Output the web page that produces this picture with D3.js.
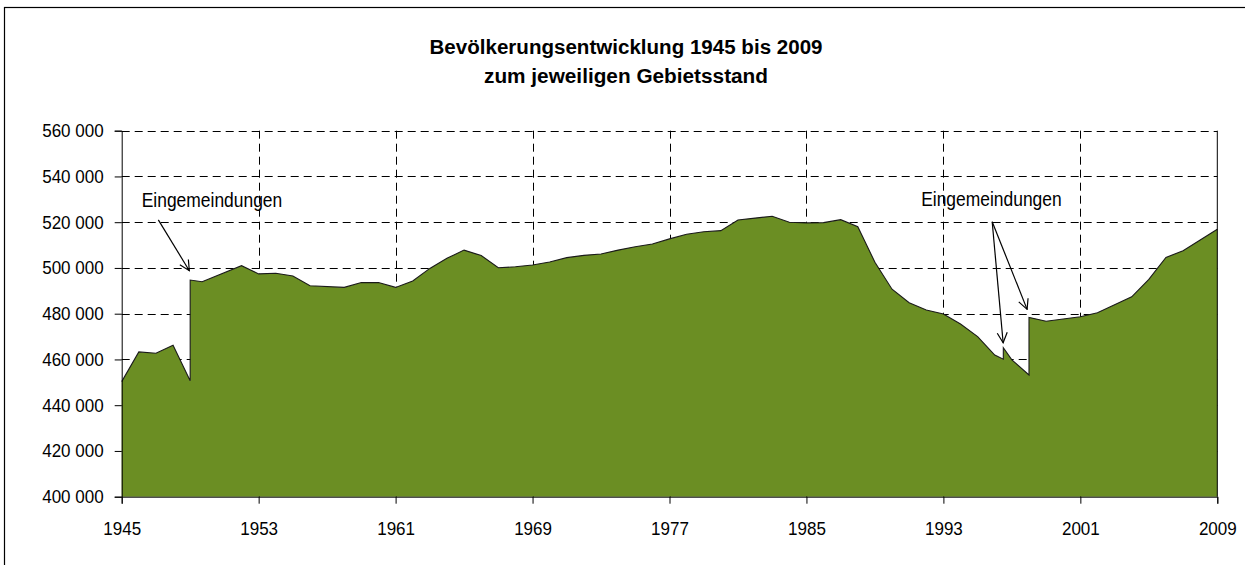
<!DOCTYPE html>
<html>
<head>
<meta charset="utf-8">
<script src="https://cdn.jsdelivr.net/npm/d3@7"></script>
<style>
  body { margin: 0; background: #fff; }
  svg text { font-family: "Liberation Sans", Arial, sans-serif; fill: #000; }
  .title { font-weight: bold; font-size: 19.5px; }
  .tick text { font-size: 18.5px; }
  .note { font-size: 21px; }
</style>
</head>
<body>
<div id="chart"></div>
<script>
// population per year (years with two entries = before/after incorporation)
const years = [1945, 1946, 1947, 1948, 1949, 1949, 1949.7, 1952, 1953, 1954, 1955, 1956, 1958, 1959, 1960,
  1961, 1962, 1963, 1964, 1965, 1966, 1967, 1968, 1969, 1970, 1971, 1972, 1973, 1974, 1975, 1976,
  1977, 1978, 1979, 1980, 1981, 1982, 1983, 1984, 1985, 1986, 1987, 1988, 1989, 1990, 1991, 1992,
  1993, 1994, 1995, 1996, 1996.5, 1996.5, 1997, 1998, 1998, 1999, 2001, 2002, 2004, 2005, 2006,
  2007, 2008, 2009];
const population = [450300, 463300, 462700, 466200, 450700, 494700, 494000, 501000, 497400, 497700, 496500, 492200, 491500, 493600, 493600,
  491500, 494300, 499800, 504200, 507800, 505400, 500100, 500500, 501300, 502600, 504500, 505500, 506100, 507800, 509300, 510500,
  512700, 514700, 515800, 516300, 521000, 521800, 522600, 520000, 519700, 519800, 521100, 518000, 502500, 490700, 484800, 481600,
  479900, 475500, 470000, 461900, 460100, 465100, 459800, 453200, 478400, 476700, 478700, 480400, 487400, 495000, 504600,
  507500, 512200, 516900];

const xTicks = [1945, 1953, 1961, 1969, 1977, 1985, 1993, 2001, 2009];
const yTicks = [400000, 420000, 440000, 460000, 480000, 500000, 520000, 540000, 560000];

const titleLines = ["Bevölkerungsentwicklung 1945 bis 2009", "zum jeweiligen Gebietsstand"];

// notes: label anchor + arrows, in data units
const noteLabels = [
  {text: "Eingemeindungen", year: 1946.17, value: 526800},
  {text: "Eingemeindungen", year: 1991.7, value: 527100}
];
const noteArrows = [
  {from: [1947.14, 521000], to: [1948.95, 498800]},
  {from: [1995.85, 520200], to: [1996.49, 467300]},
  {from: [1995.85, 520200], to: [1997.89, 481900]}
];

const width = 1245,
  height = 565,
  margin = {top: 130.7, bottom: 68.3, right: 27.7, left: 121.7};

const data = years.map((y, i) => ({year: y, value: population[i]}));

// narrow look: squeeze text horizontally
function squeeze(sel, k) {
  sel.each(function () {
    const w = this.getComputedTextLength();
    d3.select(this).attr("textLength", w * k).attr("lengthAdjust", "spacingAndGlyphs");
  });
}

const svg = d3.select("#chart")
  .append("svg")
  .attr("width", width)
  .attr("height", height);

// outer frame
svg.append("rect")
  .attr("x", 4.5)
  .attr("y", 7.5)
  .attr("width", width + 20)
  .attr("height", height + 20)
  .attr("fill", "none")
  .attr("stroke", "#000")
  .attr("stroke-width", 1.2);

const xScale = d3.scaleLinear()
  .domain([1945, 2009])
  .range([margin.left, width - margin.right]);

const yScale = d3.scaleLinear()
  .domain([400000, 560000])
  .range([height - margin.bottom, margin.top]);

const titleWidths = [393, 284];
svg.append("g")
  .selectAll("text")
  .data(titleLines)
  .join("text")
  .attr("class", "title")
  .attr("x", 626)
  .attr("y", (d, i) => 54 + i * 29)
  .attr("text-anchor", "middle")
  .attr("textLength", (d, i) => titleWidths[i])
  .attr("lengthAdjust", "spacingAndGlyphs")
  .text(d => d);

// grid
const grid = svg.append("g")
  .attr("stroke", "#000")
  .attr("stroke-width", 1)
  .attr("stroke-dasharray", "8,5");

grid.selectAll("line.h")
  .data(yTicks.slice(1))
  .join("line")
  .attr("class", "h")
  .attr("x1", margin.left)
  .attr("x2", width - margin.right)
  .attr("y1", d => Math.round(yScale(d)) + 0.5)
  .attr("y2", d => Math.round(yScale(d)) + 0.5);

grid.selectAll("line.v")
  .data(xTicks.slice(1, -1))
  .join("line")
  .attr("class", "v")
  .attr("x1", d => Math.round(xScale(d)) + 0.5)
  .attr("x2", d => Math.round(xScale(d)) + 0.5)
  .attr("y1", margin.top)
  .attr("y2", height - margin.bottom);

const area = d3.area()
  .x(d => xScale(d.year))
  .y0(yScale(400000))
  .y1(d => yScale(d.value));

const line = d3.line()
  .x(d => xScale(d.year))
  .y(d => yScale(d.value));

svg.append("path")
  .datum(data)
  .attr("d", area)
  .attr("fill", "#6b8e23");

svg.append("path")
  .datum(data)
  .attr("d", line)
  .attr("fill", "none")
  .attr("stroke", "#1a1a1a")
  .attr("stroke-width", 1.1);

// right border of plot
svg.append("line")
  .attr("x1", xScale(2009))
  .attr("x2", xScale(2009))
  .attr("y1", margin.top)
  .attr("y2", height - margin.bottom)
  .attr("stroke", "#000");

const fmt = v => d3.format(",")(v).replace(",", " ");

svg.append("g")
  .attr("transform", "translate(" + margin.left + ",0)")
  .call(d3.axisLeft(yScale).tickValues(yTicks).tickSize(7).tickPadding(11).tickFormat(fmt))
  .call(g => g.select(".domain").attr("stroke", "#000"));

svg.append("g")
  .attr("transform", "translate(0," + (height - margin.bottom) + ")")
  .call(d3.axisBottom(xScale).tickValues(xTicks).tickSize(7).tickPadding(18).tickFormat(d3.format("d")))
  .call(g => g.select(".domain").attr("stroke", "#000"));

svg.selectAll(".tick text")
  .attr("font-family", null)
  .attr("font-size", null)
  .call(squeeze, 0.92);

// annotations
svg.append("defs").append("marker")
  .attr("id", "head")
  .attr("viewBox", "0 0 12 12")
  .attr("refX", 11)
  .attr("refY", 6)
  .attr("markerWidth", 12)
  .attr("markerHeight", 12)
  .attr("markerUnits", "userSpaceOnUse")
  .attr("orient", "auto")
  .append("path")
  .attr("d", "M1,1 L11,6 L1,11")
  .attr("fill", "none")
  .attr("stroke", "#000")
  .attr("stroke-width", 1.2);

svg.append("g")
  .selectAll("line")
  .data(noteArrows)
  .join("line")
  .attr("x1", d => xScale(d.from[0]))
  .attr("y1", d => yScale(d.from[1]))
  .attr("x2", d => xScale(d.to[0]))
  .attr("y2", d => yScale(d.to[1]))
  .attr("stroke", "#000")
  .attr("stroke-width", 1.2)
  .attr("marker-end", "url(#head)");

svg.append("g")
  .selectAll("text")
  .data(noteLabels)
  .join("text")
  .attr("class", "note")
  .attr("x", d => xScale(d.year))
  .attr("y", d => yScale(d.value))
  .text(d => d.text)
  .call(squeeze, 0.83);
</script>
</body>
</html>
